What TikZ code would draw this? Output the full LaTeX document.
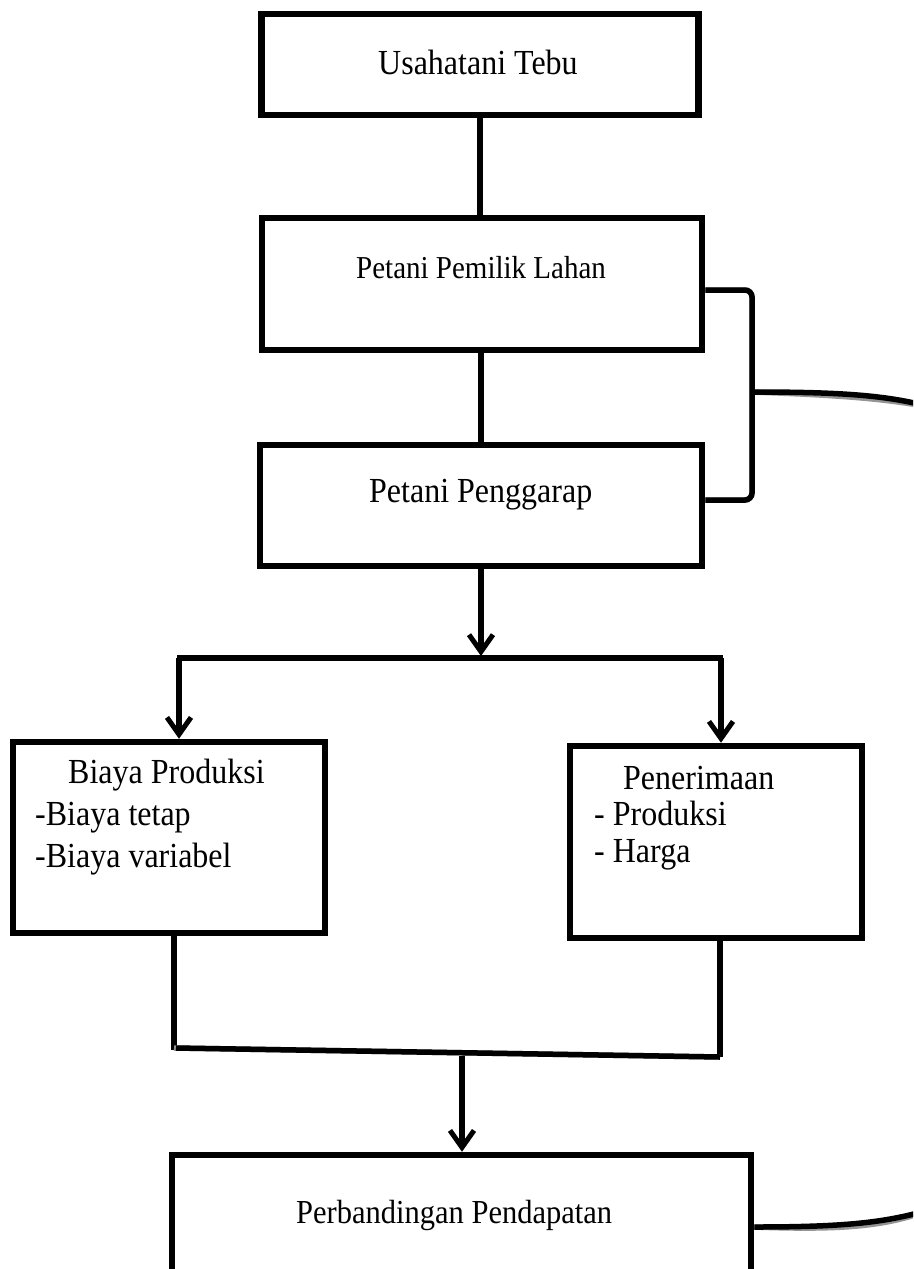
\documentclass[tikz,border=0pt]{standalone}
\usepackage{fontspec}
\setmainfont{Liberation Serif}
\usetikzlibrary{arrows.meta}
\newcommand\talltext[1]{\scalebox{1}[1.1]{#1}}
\tikzset{
  boxnode/.style={draw=black, line width=6.5pt, rectangle, inner sep=0pt, fill=white},
  conn/.style={draw=black, line width=5.5pt},
  shadowline/.style={draw=black!42, line width=5.5pt, shift={(0,3.5)}},
  arr/.style={conn, -{Straight Barb[length=17pt,width=24pt,line width=5pt]}},
  lbl/.style={inner sep=0pt, anchor=base west, font=\fontsize{32}{38}\selectfont},
}
\begin{document}
\begin{tikzpicture}[x=1pt,y=-1pt]
\useasboundingbox (0,0) rectangle (913,1269);
\clip (0,0) rectangle (913,1269);
\fill[white] (0,0) rectangle (913,1269);

% boxes
\node[boxnode, minimum width=437pt, minimum height=101pt] (usaha) at (480,64.5) {};
\node[boxnode, minimum width=440pt, minimum height=132pt] (pemilik) at (482,284) {};
\node[boxnode, minimum width=442pt, minimum height=121pt] (garap) at (481,505.5) {};
\node[boxnode, minimum width=312pt, minimum height=191pt] (biaya) at (169,837.5) {};
\node[boxnode, minimum width=292pt, minimum height=192pt] (terima) at (716,842) {};
\node[boxnode, minimum width=579pt, minimum height=150pt] (banding) at (461.5,1230) {};

% texts
\node[lbl] (t1) at (378,74) {\talltext{Usahatani Tebu}};
\node[lbl, font=\fontsize{29}{35}\selectfont] (t2) at (356,278) {\talltext{Petani Pemilik Lahan}};
\node[lbl] (t3) at (369,502) {\talltext{Petani Penggarap}};
\node[lbl] (t4) at (68,783) {\talltext{Biaya Produksi}};
\node[lbl] (t5) at (35,825) {\talltext{-Biaya tetap}};
\node[lbl] (t6) at (35,867) {\talltext{-Biaya variabel}};
\node[lbl] (t7) at (623,789) {\talltext{Penerimaan}};
\node[lbl] (t8) at (594,825) {\talltext{- Produksi}};
\node[lbl] (t9) at (594,862) {\talltext{- Harga}};
\node[lbl, font=\fontsize{30.5}{36}\selectfont] (t10) at (296,1223) {\talltext{Perbandingan Pendapatan}};

% coordinates
\coordinate (split) at (481,656);
\coordinate (bl) at (179,658);
\coordinate (br) at (721,658);
\coordinate (jl) at (174,1048);
\coordinate (jr) at (720,1057);
\coordinate (jm) at (462,1056);
\coordinate (brtop) at (752,290);
\coordinate (brbot) at (752,500);
\coordinate (brmid) at (752,392);
\coordinate (edge1) at (935,408);
\coordinate (edge2) at (935,1208);

% vertical connectors
\draw[conn] (usaha.south -| 480,0) -- (pemilik.north -| 480,0);
\draw[conn] (pemilik.south -| 481,0) -- (garap.north -| 481,0);

% branch line
\draw[shadowline] (bl) -- (br);
\draw[conn] ([xshift=-2pt]bl) -- ([xshift=2pt]br);
\draw[arr] (garap.south -| split) -- (split);
\draw[arr] (bl) -- (bl |- biaya.north);
\draw[arr] (br) -- (br |- terima.north);

% bracket
\draw[shadowline, rounded corners=7pt] (pemilik.east |- brtop) -- (brtop) -- (brbot) -- (garap.east |- brbot);
\draw[shadowline] (brmid) .. controls (850,392) and (890,396) .. (edge1);
\draw[conn, rounded corners=7pt] (pemilik.east |- brtop) -- (brtop) -- (brbot) -- (garap.east |- brbot);
\draw[conn] (brmid) .. controls (850,392) and (890,396) .. (edge1);

% join lines
\draw[conn] (biaya.south -| jl) -- ([yshift=-2pt]jl);
\draw[conn] (terima.south -| jr) -- (jr);
\draw[shadowline] (jl) -- (jr);
\draw[conn] ([xshift=2pt]jl) -- (jr);
\draw[arr] (jm) -- (jm |- banding.north);

% outgoing curve from bottom box
\coordinate (bout) at (banding.east |- 0,1227);
\draw[shadowline] (bout) .. controls (850,1227) and (890,1222) .. (edge2);
\draw[conn] (bout) .. controls (850,1227) and (890,1222) .. (edge2);
\end{tikzpicture}
\end{document}
